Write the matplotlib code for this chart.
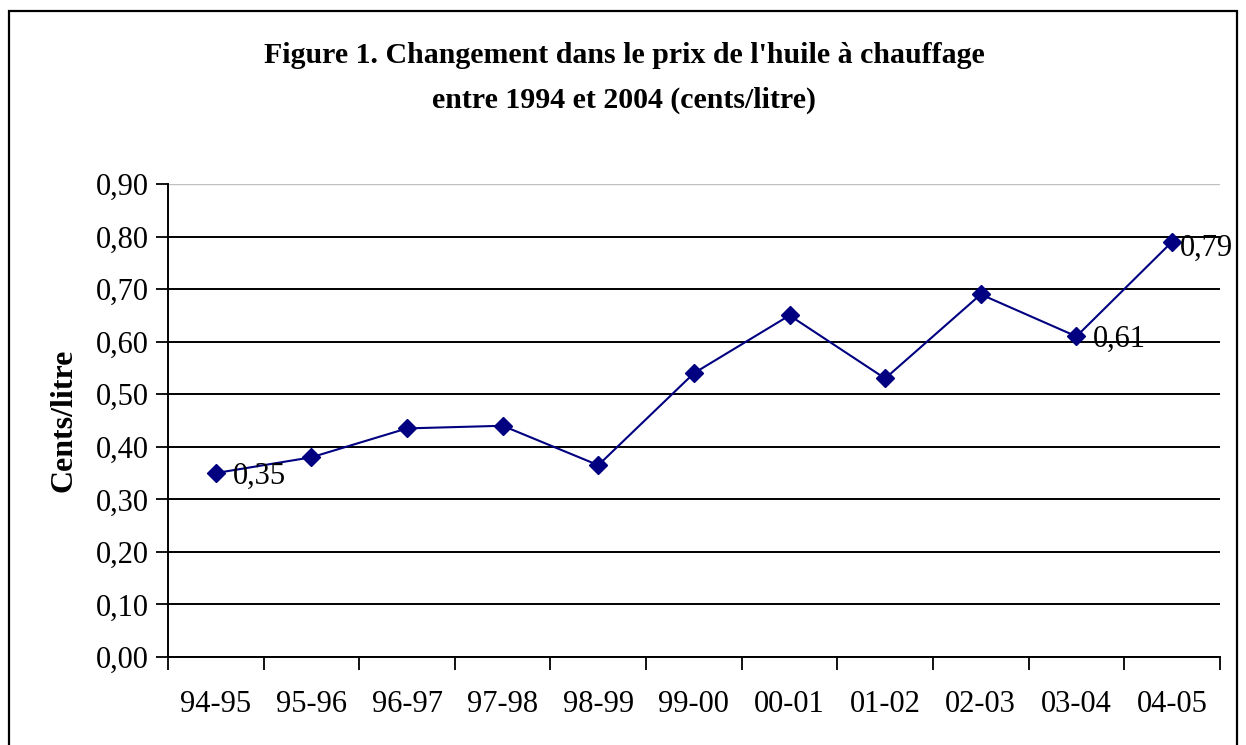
import matplotlib
matplotlib.use('Agg')
import matplotlib.pyplot as plt
from matplotlib.patches import Rectangle
from matplotlib.ticker import FuncFormatter

# Données
saisons = ['94-95', '95-96', '96-97', '97-98', '98-99', '99-00',
           '00-01', '01-02', '02-03', '03-04', '04-05']
prix = [0.35, 0.38, 0.435, 0.44, 0.365, 0.54, 0.65, 0.53, 0.69, 0.61, 0.79]
etiquettes = {0: '0,35', 9: '0,61', 10: '0,79'}
graduations = [0.0, 0.1, 0.2, 0.3, 0.4, 0.5, 0.6, 0.7, 0.8, 0.9]

plt.rcParams['font.family'] = ['Liberation Serif', 'DejaVu Serif']

fig = plt.figure(figsize=(12.46, 7.45), dpi=100)
ax = fig.add_axes([0.1348, 0.1181, 0.979 - 0.1348, 0.753 - 0.1181])

x = list(range(len(saisons)))
ax.plot(x, prix, color='#000080', lw=1.5, marker='D', markersize=9,
        markerfacecolor='#000080', markeredgecolor='#000080', zorder=3)

# décalage des étiquettes (la dernière est rapprochée pour rester dans le cadre)
for i, txt in etiquettes.items():
    dx = 6 if i == len(saisons) - 1 else 12
    dy = -5 if i == len(saisons) - 1 else -2
    ax.annotate(txt, (x[i], prix[i]), xytext=(dx, dy), textcoords='offset points',
                ha='left', va='center', fontsize=22, annotation_clip=False)

ax.set_xlim(-0.5, len(saisons) - 0.5)
ax.set_ylim(0, 0.9)
ax.set_yticks(graduations)
ax.yaxis.set_major_formatter(FuncFormatter(lambda v, p: f'{v:.2f}'.replace('.', ',')))
ax.set_xticks(x)
ax.set_xticklabels(saisons)
ax.set_xticks([i - 0.5 for i in range(len(saisons) + 1)], minor=True)
ax.tick_params(axis='x', which='major', length=0, pad=24, labelsize=22)
ax.tick_params(axis='x', which='minor', length=9, width=1.3, direction='out', color='black')
ax.tick_params(axis='y', length=9, width=1.3, direction='out', labelsize=22, pad=5)

ax.yaxis.grid(True, color='black', lw=1.4)
ax.set_axisbelow(True)
ax.get_ygridlines()[-1].set_color('#c0c0c0')
ax.get_ygridlines()[-1].set_linewidth(1.0)

for s in ['top', 'right']:
    ax.spines[s].set_visible(False)
ax.spines['left'].set_linewidth(1.4)
ax.spines['bottom'].set_linewidth(1.4)

ax.set_ylabel('Cents/litre', fontsize=23, fontweight='bold', labelpad=12)

fig.text(0.501, 0.926, "Figure 1. Changement dans le prix de l'huile à chauffage",
         ha='center', va='center', fontsize=21.5, fontweight='bold')
fig.text(0.501, 0.865, "entre 1994 et 2004 (cents/litre)",
         ha='center', va='center', fontsize=21.5, fontweight='bold')

# cadre
fig.patches.append(Rectangle((9 / 1246, -0.05), 1228 / 1246, 1.05 - 11 / 745,
                             transform=fig.transFigure, fill=False,
                             edgecolor='black', lw=1.6))

fig.savefig('out.png', dpi=100)
